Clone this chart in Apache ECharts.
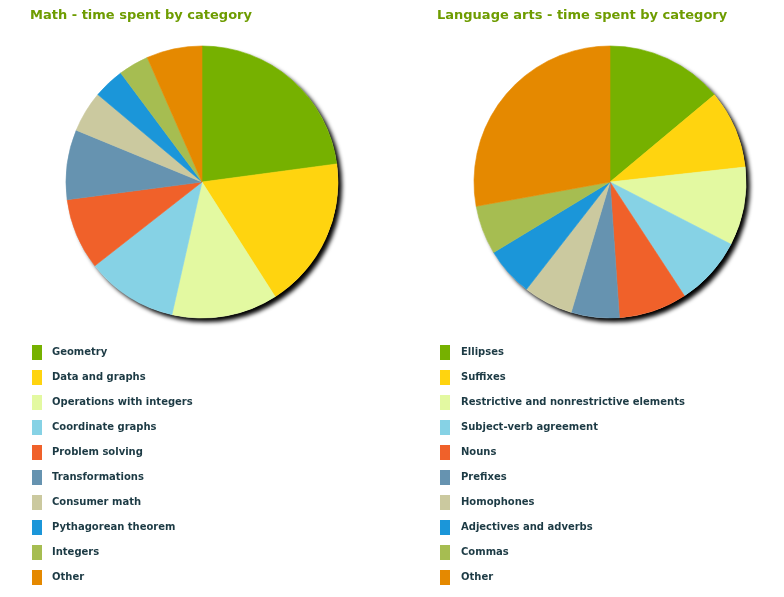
<!DOCTYPE html>
<html>
<head>
<meta charset="utf-8">
<style>
  html, body { margin: 0; padding: 0; background: #fff; }
  #chart { width: 784px; height: 597px; }
</style>
<script src="https://cdn.jsdelivr.net/npm/echarts@6/dist/echarts.min.js"></script>
</head>
<body>
<div id="chart"></div>
<script>
// slice colours, shared by both pies
const palette = ['#76b100', '#ffd40f', '#e3f9a1', '#86d2e5', '#f0612a',
                 '#6693b0', '#cbc99f', '#1b96d9', '#a6bd51', '#e58900'];

const mathCategories = ['Geometry', 'Data and graphs', 'Operations with integers',
  'Coordinate graphs', 'Problem solving', 'Transformations', 'Consumer math',
  'Pythagorean theorem', 'Integers', 'Other'];
const mathValues = [22.9, 18.1, 12.6, 10.9, 8.5, 8.3, 4.9, 3.7, 3.6, 6.6];

const langCategories = ['Ellipses', 'Suffixes', 'Restrictive and nonrestrictive elements',
  'Subject-verb agreement', 'Nouns', 'Prefixes', 'Homophones',
  'Adjectives and adverbs', 'Commas', 'Other'];
const langValues = [13.9, 9.3, 9.3, 8.2, 8.1, 5.7, 5.9, 5.8, 5.8, 27.8];

const FONT = '"DejaVu Sans", Verdana, sans-serif';

// border in the slice's own colour hides the anti-alias seams
function toData(names, values) {
  return names.map((n, i) => ({
    name: n,
    value: values[i],
    itemStyle: { color: palette[i], borderColor: palette[i], borderWidth: 0.6 }
  }));
}

// a plain disc with the drop shadow, drawn under the real pie
function shadowDisc(center) {
  return {
    type: 'pie',
    center: center,
    radius: 136,
    silent: true,
    animation: false,
    label: { show: false },
    legendHoverLink: false,
    z: 1,
    data: [{ value: 1, name: '', itemStyle: {
      color: '#fff',
      borderWidth: 0,
      shadowColor: 'rgba(0,0,0,1)',
      shadowBlur: 4,
      shadowOffsetX: 4,
      shadowOffsetY: 4
    } }]
  };
}

function pie(center, names, values) {
  return {
    type: 'pie',
    center: center,
    radius: 136,
    startAngle: 90,
    clockwise: true,
    animation: false,
    z: 2,
    label: { show: false },
    labelLine: { show: false },
    emphasis: { scale: false },
    data: toData(names, values)
  };
}

function legend(left, names, textPad) {
  return {
    orient: 'vertical',
    left: left,
    top: 345,
    padding: 0,
    itemWidth: 10,
    itemHeight: 15,
    itemGap: 10,
    itemStyle: { borderWidth: 0 },
    icon: 'rect',
    selectedMode: false,
    data: names,
    textStyle: { fontFamily: FONT, fontSize: 10, fontWeight: 'bold', color: '#1c3a44', padding: [0, 0, 0, textPad] }
  };
}

const chart = echarts.init(document.getElementById('chart'), null, { renderer: 'canvas' });
chart.setOption({
  backgroundColor: '#fff',
  title: [
    { text: 'Math - time spent by category', left: 25, top: 4,
      textStyle: { fontFamily: FONT, fontSize: 13, fontWeight: 'bold', color: '#6e9c00' } },
    { text: 'Language arts - time spent by category', left: 432, top: 4,
      textStyle: { fontFamily: FONT, fontSize: 13, fontWeight: 'bold', color: '#6e9c00' } }
  ],
  tooltip: { trigger: 'item' },
  legend: [legend(32, mathCategories, 5), legend(440, langCategories, 6)],
  series: [
    shadowDisc([202, 182]),
    pie([202, 182], mathCategories, mathValues),
    shadowDisc([610, 182]),
    pie([610, 182], langCategories, langValues)
  ]
});
</script>
</body>
</html>
